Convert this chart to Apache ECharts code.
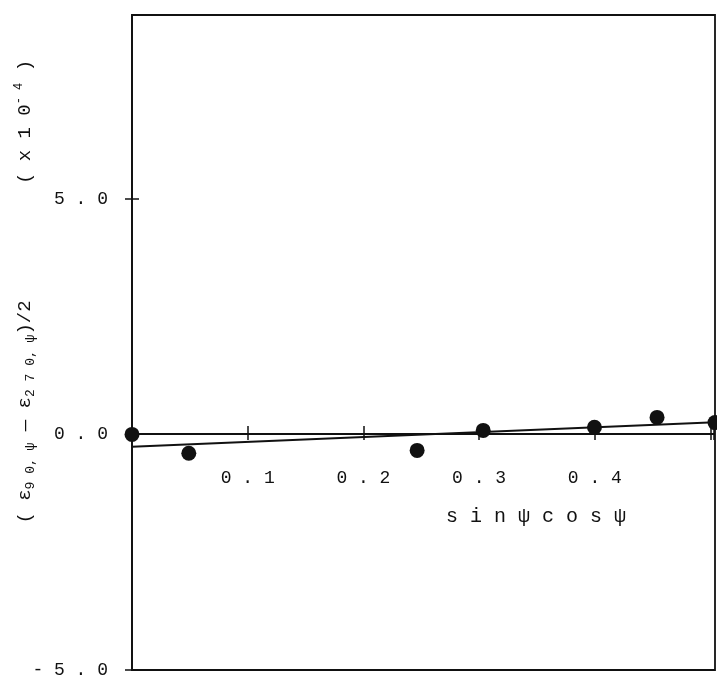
<!DOCTYPE html>
<html>
<head>
<meta charset="utf-8">
<script src="https://cdn.jsdelivr.net/npm/echarts@6/dist/echarts.min.js"></script>
<style>
html,body{margin:0;padding:0;background:#fff;}
#chart{width:717px;height:682px;}
</style>
</head>
<body>
<div id="chart"></div>
<script>
// sin(psi)cos(psi) values
const xValues = [0, 0.049, 0.246, 0.303, 0.399, 0.453, 0.503];
// (eps90 - eps270)/2, x10^-4
const yValues = [0, -0.40, -0.34, 0.085, 0.15, 0.36, 0.25];
// fitted straight line end points
const fitX = [0, 0.503];
const fitY = [-0.26, 0.26];
const xTickLabels = ['0.1', '0.2', '0.3', '0.4'];
const yTickLabels = ['-5.0', '0.0', '5.0'];

const spaced = s => s.split('').join(' ');
const font = '"Liberation Mono", "DejaVu Sans Mono", monospace';
const ink = '#111';
const X_MIN = 0, X_MAX = 0.503, Y_MIN = -5, Y_MAX = 8.9;

const chart = echarts.init(document.getElementById('chart'));
chart.setOption({
  animation: false,
  backgroundColor: '#fff',
  grid: [
    {left: 132, right: 2, top: 15, bottom: 12, show: true, borderColor: ink, borderWidth: 1.8, containLabel: false},
    // upper half grid whose bottom edge is the zero line: carries the x axis with its labels
    {left: 132, right: 2, top: 15, bottom: 248, show: false, containLabel: false}
  ],
  xAxis: [{
    gridIndex: 0, type: 'value', min: X_MIN, max: X_MAX, interval: 0.1,
    axisLine: {show: false}, axisTick: {show: false}, axisLabel: {show: false}, splitLine: {show: false}
  }, {
    gridIndex: 1, type: 'value', min: X_MIN, max: X_MAX, interval: 0.1, position: 'bottom',
    axisLine: {show: true, onZero: false, lineStyle: {color: ink, width: 2}},
    axisTick: {show: true, length: 6, lineStyle: {color: ink, width: 1.5}},
    splitLine: {show: false},
    axisLabel: {
      margin: 35, color: ink, fontSize: 18, fontFamily: font,
      formatter: v => {
        const s = v.toFixed(1);
        return xTickLabels.includes(s) && Math.abs(v - Number(s)) < 1e-9 ? spaced(s) : '';
      }
    }
  }, {
    gridIndex: 1, type: 'value', min: X_MIN, max: X_MAX, interval: 0.1, position: 'bottom',
    axisLine: {show: false, onZero: false},
    axisTick: {show: true, inside: true, length: 8, lineStyle: {color: ink, width: 1.5}},
    splitLine: {show: false},
    axisLabel: {show: false}
  }],
  yAxis: [{
    gridIndex: 0, type: 'value', min: Y_MIN, max: Y_MAX, interval: 5,
    axisLine: {show: true, onZero: false, lineStyle: {color: ink, width: 1.8}},
    axisTick: {show: true, length: 7, lineStyle: {color: ink, width: 1.5}},
    splitLine: {show: false},
    axisLabel: {
      margin: 24, color: ink, fontSize: 18, fontFamily: font, showMaxLabel: false,
      formatter: v => {
        const s = v.toFixed(1);
        return yTickLabels.includes(s) && Math.abs(v - Number(s)) < 1e-9 ? spaced(s) : '';
      }
    }
  }, {
    gridIndex: 0, type: 'value', min: Y_MIN, max: Y_MAX, interval: 5, position: 'left',
    axisLine: {show: false, onZero: false},
    axisTick: {show: true, inside: true, length: 7, lineStyle: {color: ink, width: 1.5}},
    splitLine: {show: false},
    axisLabel: {show: false}
  }, {
    gridIndex: 1, type: 'value', min: 0, max: Y_MAX,
    axisLine: {show: false}, axisTick: {show: false}, axisLabel: {show: false}, splitLine: {show: false}
  }],
  series: [{
    type: 'line', xAxisIndex: 0, yAxisIndex: 0,
    data: fitX.map((x, i) => [x, fitY[i]]),
    symbol: 'none',
    lineStyle: {color: ink, width: 2},
    z: 2
  }, {
    type: 'scatter', xAxisIndex: 0, yAxisIndex: 0,
    data: xValues.map((x, i) => [x, yValues[i]]),
    symbol: 'circle',
    symbolSize: 15,
    itemStyle: {color: ink, opacity: 1},
    clip: false,
    z: 3
  }],
  graphic: [{
    type: 'text', x: 536, y: 517,
    style: {text: spaced('sinψcosψ'), font: '20px ' + font, fill: ink, textAlign: 'center', textVerticalAlign: 'middle'}
  }, {
    type: 'text', x: 25, y: 412, rotation: Math.PI / 2,
    style: {
      text: '{m|( ε}{s|9 0, ψ}{m| — ε}{s|2 7 0, ψ}{m|)/2}',
      fill: ink, textAlign: 'center', textVerticalAlign: 'middle',
      rich: {
        m: {fontSize: 19, fontFamily: font, lineHeight: 24, verticalAlign: 'middle', fill: ink},
        s: {fontSize: 13, fontFamily: font, lineHeight: 12, verticalAlign: 'bottom', fill: ink}
      }
    }
  }, {
    type: 'text', x: 25, y: 122, rotation: Math.PI / 2,
    style: {
      text: '{m|( x 1 0}{p|- 4}{m| )}',
      fill: ink, textAlign: 'center', textVerticalAlign: 'middle',
      rich: {
        m: {fontSize: 19, fontFamily: font, lineHeight: 24, verticalAlign: 'middle', fill: ink},
        p: {fontSize: 12, fontFamily: font, lineHeight: 12, verticalAlign: 'top', fill: ink}
      }
    }
  }]
});
</script>
</body>
</html>
